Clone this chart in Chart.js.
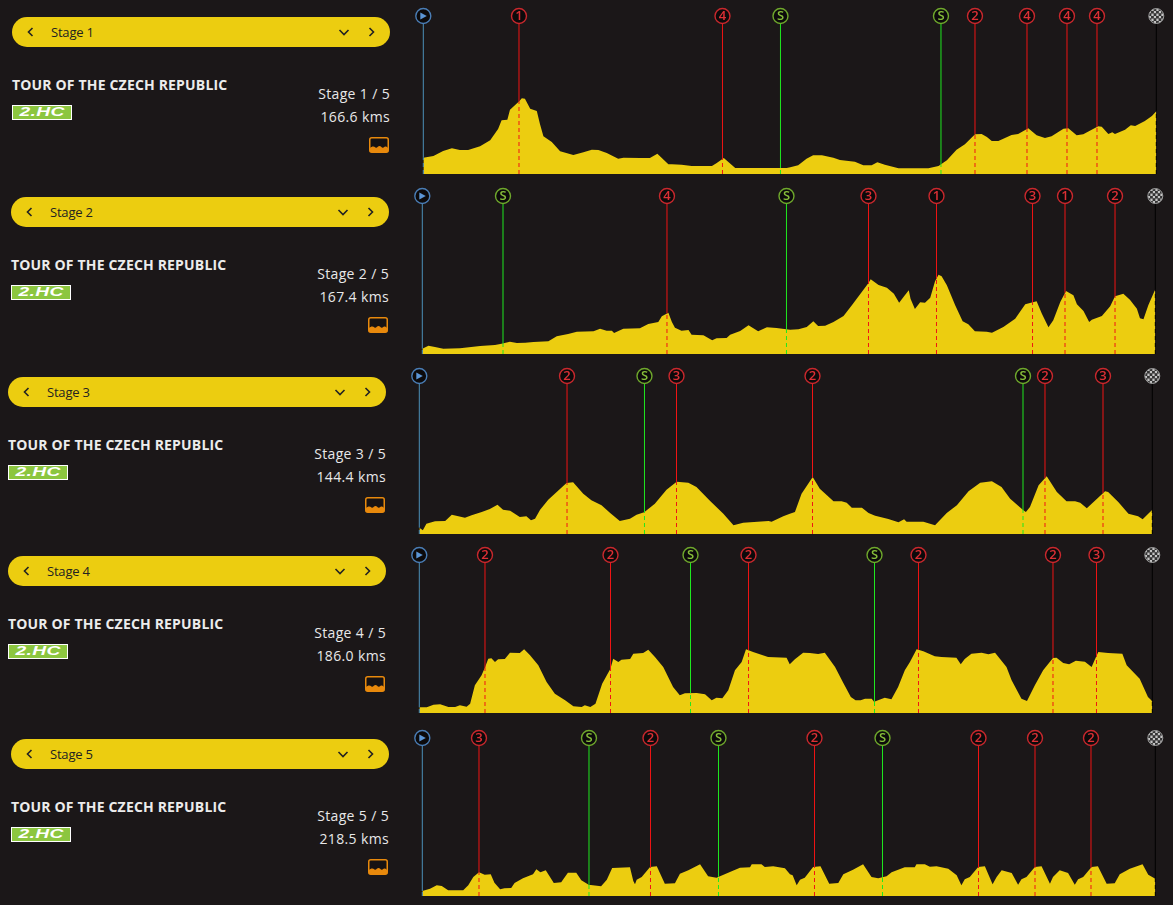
<!DOCTYPE html>
<html>
<head>
<meta charset="utf-8">
<title>Tour of the Czech Republic</title>
<script src="https://cdn.jsdelivr.net/npm/chart.js@4/dist/chart.umd.min.js"></script>
<style>
html,body{margin:0;padding:0;background:#1b1718;width:1173px;height:905px;overflow:hidden;font-family:"Open Sans",sans-serif;}
.abs{position:absolute;white-space:nowrap;}
.pill{height:30px;width:378px;border-radius:15px;background:#eccd10;color:#222;font-size:13px;letter-spacing:-.2px;line-height:30px;}
.pill span{position:absolute;left:39px;top:0;}
.pill svg{position:absolute;top:8px;}
.title{color:#ececec;font-size:14px;font-weight:700;letter-spacing:.17px;line-height:18px;}
.right{color:#e8e8e8;font-size:14px;letter-spacing:.35px;line-height:18px;text-align:right;width:120px;}
.badge{width:58px;height:13px;border:1px solid #fff;background:#8cc63f;color:#fff;overflow:hidden;display:flex;align-items:center;justify-content:center;}
.badge b{display:block;font:italic 700 12px/13px "Liberation Sans",sans-serif;transform:scaleX(1.6);letter-spacing:.2px;}
canvas{position:absolute;left:410px;}
</style>
</head>
<body>
<script>
// Race text
const raceName = "TOUR OF THE CZECH REPUBLIC";
const raceClass = "2.HC";
const stageNames = ["Stage 1","Stage 2","Stage 3","Stage 4","Stage 5"];
const stageCounts = ["Stage 1 / 5","Stage 2 / 5","Stage 3 / 5","Stage 4 / 5","Stage 5 / 5"];
const stageLengths = [166.6,167.4,144.4,186.0,218.5];

// Stage 1 profile: distance (km), relative elevation
const s1Km = [0,2.3,4.5,6.5,8.3,10.2,12.9,15.2,17.0,17.8,19.1,19.7,21.8,22.4,23.1,24.3,25.8,26.5,27.3,29.2,31.1,34.1,36.4,38.3,39.8,41.7,44.3,45.5,49.3,51.5,53.2,55.7,56.5,58.7,61.0,65.6,66.7,68.3,70.9,82.6,83.4,85.2,87.1,88.6,90.6,93.2,94.7,98.1,100.0,101.9,103.2,104.9,108.0,114.8,117.1,119.0,121.2,123.1,125.4,126.9,128.1,129.2,130.7,133.7,135.2,137.5,139.4,141.3,142.8,145.5,146.6,148.5,150.0,153.4,154.2,155.7,156.6,157.2,159.5,160.8,161.8,164.0,165.6,166.6];
const s1Elev = [16.3,18,23,25.7,24,24,27.7,33.7,45,53.7,54.3,64.3,72.7,75.7,75.3,65.3,63,50.3,37.7,32,22.7,19,21.7,24.3,24,21,15.3,16.3,16,16,20.3,9.7,9.7,9.3,8,8,11,16,6,6,6.7,8.7,15.3,18.7,18.7,16.3,14,12.3,8.7,8.7,11.7,9.3,5.7,5.7,8,13.7,24.3,29.7,39.7,40,37,33,33,39,40,45.7,38.7,36,37.7,45.3,45.7,38.7,39.7,47.7,47.3,40,41.7,40,44.3,48.7,48,53,58,62.7];
const s1Marks = ["1","4","S","S","2","4","4","4"];
const s1MarkKm = [21.75,68.0,81.18,117.66,125.39,137.21,146.30,153.12];

// Stage 2
const s2Km = [0,1.4,2.9,4.8,8.6,13.2,16.6,18.1,20.0,21.6,23.5,25.4,28.8,30.7,33.3,35.3,39.1,40.6,42.1,43.3,43.8,45.9,49.7,51.6,53.9,54.7,56.2,57.0,57.7,59.2,60.8,61.5,64.2,66.2,67.2,69.5,70.3,72.6,74.5,76.7,78.7,80.9,84.0,85.9,87.8,89.3,90.4,92.0,93.9,96.2,98.1,101.9,102.4,104.2,106.1,107.7,108.9,110.2,111.1,111.5,112.5,113.7,114.8,116.0,117.1,117.9,118.6,119.8,121.7,123.4,124.7,126.2,128.9,130.1,132.7,135.4,137.7,140.3,141.5,143.0,144.1,145.7,147.0,148.7,149.5,151.0,152.3,152.9,155.2,157.1,158.2,160.1,161.6,163.2,163.9,164.7,165.8,167.4];
const s2Elev = [5.3,8.3,7,5.3,5.7,8,9,10.3,12.3,11,11.3,12,12.7,17.7,20,22.3,22.7,25.3,23.3,23.3,21,25.3,25.7,30,32,37.7,41.3,32,26.3,23.3,24,19.3,18.7,13.7,15.7,16,19.3,23,28.7,22.7,26.7,26,24.3,24.7,27,32.7,28,28.3,32,38,48.7,71,74.7,69,66.3,60.3,51.3,58.7,63.7,55.3,45,51.7,51.3,56.3,72.7,79.3,77.7,68.7,48.7,32.7,29.7,22.7,22.3,21.3,27,35.3,49.7,52.7,40.3,26.7,33.7,52,63,58.7,49.7,43,32,34.3,38,47.7,57.7,60.3,54.3,45.3,35.7,34.7,48.7,64.7];
const s2Marks = ["S","4","S","3","1","3","1","2"];
const s2MarkKm = [18.43,55.88,83.17,101.90,117.43,139.36,146.78,158.20];

// Stage 3
const s3Km = [0,0.7,1.4,3.1,5.1,6.4,9.0,10.3,12.3,13.9,15.4,16.5,17.9,19.8,21.1,22.0,22.8,23.8,25.4,29.0,30.3,32.3,33.9,35.9,37.6,39.5,41.5,42.8,44.3,46.4,48.7,50.7,53.0,54.6,57.3,59.9,61.9,63.8,68.8,69.4,71.7,73.0,74.0,75.3,77.5,78.9,80.3,81.6,83.2,84.2,85.2,87.2,88.5,89.8,92.4,94.4,95.5,96.0,99.3,101.6,103.9,105.9,108.2,110.5,112.8,114.7,116.4,119.0,119.5,120.3,122.0,123.6,125.6,127.5,129.2,130.2,131.5,135.1,135.7,137.7,139.7,141.6,142.5,144.4];
const s3Elev = [6.3,3.7,10.3,12.7,13,19.3,16.3,18.7,22,25,29.3,24.3,23.3,17,17.7,13.7,15.3,24.3,34.3,51,51.7,40.3,33.7,28.7,21,13,15.3,19.3,21.7,30.3,44.3,52.3,51.3,47,33,20.3,8.7,11.3,13,12.3,17.7,20.3,22,40.3,57,45.3,38.7,32.7,32.7,31.3,26.3,26.3,21,18.3,15,11.7,14.7,12.3,12.3,8.7,21,28.7,42.7,51.3,52.7,47,35.3,23.7,22,27,48.7,57.7,42,32.7,32.7,31.3,25.7,42.7,42,32,20.3,17.7,14.7,24.3];
const s3Marks = ["2","S","3","2","S","2","3"];
const s3MarkKm = [29.10,44.36,50.67,77.46,118.93,123.26,134.69];

// Stage 4
const s4Km = [0,1.9,3.6,5.3,7.4,9.1,10.3,12.0,12.9,14.1,15.8,16.7,17.5,18.3,19.2,20.0,21.7,23.0,25.5,26.6,28.1,30.2,32.3,34.4,37.0,39.1,41.2,42.0,43.4,44.7,46.4,48.5,49.2,50.5,51.3,53.5,54.3,56.8,58.1,59.8,61.9,64.4,66.1,67.4,70.4,72.5,74.2,75.4,76.9,78.4,80.1,81.8,82.9,84.7,88.5,93.2,94.0,95.3,97.4,99.1,101.2,102.9,105.5,107.6,109.5,110.7,112.0,113.1,114.8,115.4,118.1,119.8,121.5,123.2,124.5,126.2,127.9,130.8,132.5,136.3,137.4,138.4,140.1,142.7,144.4,146.1,149.0,150.3,152.8,154.2,156.2,158.3,160.8,161.7,163.4,164.9,166.6,168.9,170.6,171.4,172.3,174.8,178.4,179.5,182.8,184.9,186.0];
const s4Elev = [5.7,5.7,8.3,8.7,6,6,7.7,6.3,9.3,27.7,37.7,46,54.3,54.7,51,53.7,54,60.3,60,63.7,57.7,47.7,31,19.3,12.7,6.7,6,7.7,6,9.3,29.3,44.3,54.3,51,53.3,54,59.3,60,63.3,56,46,26,17.7,19.7,20,18.7,12.7,15.3,14.7,22.7,42.7,51,63.7,61,56,55.3,48.7,53.7,60.3,60,59,60.3,46,30,16,12.7,12.7,14.3,14.3,11.3,15.3,13.7,26,42.7,51,63.7,61.7,56.7,56,55.3,48.7,54,59.3,60.3,58.7,60.3,46,32.7,14.3,12,27.7,42.7,55,55.3,50,48.7,52.3,51.3,46,53.3,61,60,59.3,47.7,34.3,16,11.7];
const s4Marks = ["2","2","S","2","S","2","2","3"];
const s4MarkKm = [16.67,48.52,68.82,83.54,115.51,126.67,160.80,171.84];

// Stage 5
const s5Km = [0,2.3,4.3,5.8,7.7,12.2,13.7,15.2,16.9,18.6,20.4,21.5,23.2,24.5,26.5,27.5,30.0,33.0,34.0,35.2,36.8,39.2,41.4,43.4,45.9,47.4,49.6,53.3,55.0,56.6,61.9,62.9,63.4,63.9,65.4,67.9,69.9,72.3,75.3,76.8,79.3,82.8,85.2,87.7,91.7,94.7,97.7,98.2,101.1,102.1,104.6,108.1,109.6,110.4,111.6,112.6,114.0,116.5,118.7,121.3,124.0,125.5,128.4,131.4,133.9,135.9,138.4,139.9,143.8,146.8,147.3,149.8,151.3,153.3,156.8,159.3,160.7,161.7,163.2,165.7,167.7,170.0,171.2,172.7,175.7,177.6,178.6,180.1,182.6,184.6,187.1,188.0,190.0,192.5,194.5,195.5,197.0,199.5,201.4,204.0,206.4,207.9,210.9,214.7,216.4,218.5];
const s5Elev = [5,7.3,10.7,10,5.7,5.7,10.7,19,23.7,21.3,21.7,13.3,6.7,7.7,8,13,17.7,21.7,26.7,23.7,25.7,13,13.7,23.3,23.3,15.7,11.3,9.7,16.3,28,28.7,15,11.7,16.3,19,29,29.7,12.3,12.7,22.3,25.7,31.7,19.7,18.3,24,28.3,28.7,31.7,31.7,29,29.7,27.7,21.7,20.7,10.7,16.3,18.3,29,29.7,12.3,13,21.7,26.3,31.7,19,17.7,19.7,23.7,28.7,28.7,31.7,31.7,29.3,29.7,27.3,20.7,10.7,16.7,19,29,29.7,11.7,19,25.7,23,11.3,16.7,19,29,29.7,12.3,19,25.7,23,11.3,16.7,19,29,29.7,12.3,12.7,21.7,27.3,31.7,21.3,17.3];
const s5Marks = ["3","S","2","S","2","S","2","2","2"];
const s5MarkKm = [16.90,49.69,68.02,88.29,116.91,137.18,165.80,182.64,199.33];

const allKm = [s1Km,s2Km,s3Km,s4Km,s5Km];
const allElev = [s1Elev,s2Elev,s3Elev,s4Elev,s5Elev];
const allMarks = [s1Marks,s2Marks,s3Marks,s4Marks,s5Marks];
const allMarkKm = [s1MarkKm,s2MarkKm,s3MarkKm,s4MarkKm,s5MarkKm];

// Layout of each row (separate from the data)
const panelLeft = [12,11,8,8,11];
const panelTop = [17,197,377,556,739];
const plotStart = [423.3,422.3,419.3,419.3,422.3];
const plotEnd = [1156.3,1155.3,1152.3,1152.3,1155.3];
const plotBase = [174,354,534,713,896];

const CANVAS_LEFT = 410, CANVAS_W = 763, PLOT_H = 160, TOP_PAD = 13, BOTTOM_PAD = 6;
const YELLOW = "#eccd10";

const markerPlugin = {
  id: "stageMarkers",
  afterDatasetsDraw(chart, args, opts) {
    const ctx = chart.ctx, x = chart.scales.x, area = chart.chartArea;
    const pts = chart.getDatasetMeta(0).data;
    const profileY = px => {
      for (let i = 1; i < pts.length; i++) {
        if (px <= pts[i].x) {
          const a = pts[i-1], b = pts[i];
          return a.y + (b.y - a.y) * (px - a.x) / (b.x - a.x || 1);
        }
      }
      return pts[pts.length-1].y;
    };
    const cy = area.top + 2;
    opts.labels.forEach((label, i) => {
      const px = x.getPixelForValue(opts.kms[i]);
      const kind = label === "start" ? "start" : label === "finish" ? "finish" : label === "S" ? "sprint" : "climb";
      const line = {start:"#4b90b8", finish:"#000000", sprint:"#1fe81f", climb:"#f01414"}[kind];
      const py = profileY(px);
      ctx.save();
      ctx.strokeStyle = line; ctx.lineWidth = 1;
      ctx.beginPath(); ctx.moveTo(px, cy + 8); ctx.lineTo(px, py); ctx.stroke();
      ctx.setLineDash([4,3]);
      ctx.beginPath(); ctx.moveTo(px, area.bottom); ctx.lineTo(px, py); ctx.stroke();
      ctx.restore();
      const ix = px;
      ctx.save();
      ctx.beginPath(); ctx.arc(ix, cy, 7.5, 0, Math.PI*2);
      if (kind === "finish") {
        ctx.clip();
        for (let r = -4; r < 4; r++) for (let c = -4; c < 4; c++) {
          ctx.fillStyle = (r + c) & 1 ? "#c4c4c4" : "#333333";
          ctx.fillRect(ix + c*2.5, cy + r*2.5, 2.5, 2.5);
        }
        ctx.restore();
        ctx.save();
        ctx.beginPath(); ctx.arc(ix, cy, 7.5, 0, Math.PI*2);
        ctx.strokeStyle = "#9a9a9a"; ctx.lineWidth = 1; ctx.stroke();
      } else {
        const ring = {start:"#4a7db5", sprint:"#6fa82c", climb:"#c9282d"}[kind];
        const ink = {start:"#5c96d6", sprint:"#86bd3a", climb:"#dc3035"}[kind];
        ctx.fillStyle = "#0c0a0b"; ctx.fill();
        ctx.strokeStyle = ring; ctx.lineWidth = 1.4; ctx.stroke();
        ctx.fillStyle = ink;
        if (kind === "start") {
          ctx.beginPath();
          ctx.moveTo(ix - 3, cy - 3.5); ctx.lineTo(ix + 3.5, cy); ctx.lineTo(ix - 3, cy + 3.5);
          ctx.closePath(); ctx.fill();
        } else {
          ctx.font = '600 13px "Open Sans"';
          ctx.textAlign = "center"; ctx.textBaseline = "middle";
          ctx.fillText(label, ix, cy + 0.5);
        }
      }
      ctx.restore();
    });
  }
};

function chev(pts, left) {
  return `<svg width="14" height="14" style="left:${left}px" viewBox="0 0 14 14"><polyline points="${pts}" fill="none" stroke="#222" stroke-width="1.6"/></svg>`;
}
function add(html) {
  const d = document.createElement("div");
  d.innerHTML = html;
  const el = d.firstElementChild;
  document.body.appendChild(el);
  return el;
}

stageNames.forEach((name, i) => {
  const L = panelLeft[i], T = panelTop[i];
  add(`<div class="abs pill" style="left:${L}px;top:${T}px"><span>${name}</span>`
    + chev("9.5,3 5.5,7 9.5,11", 11) + chev("2.5,5 7,9.5 11.5,5", 325) + chev("4.5,3 8.5,7 4.5,11", 353) + `</div>`);
  add(`<div class="abs title" style="left:${L}px;top:${T+59}px">${raceName}</div>`);
  add(`<div class="abs badge" style="left:${L}px;top:${T+88}px"><b>${raceClass}</b></div>`);
  add(`<div class="abs right" style="left:${L+258}px;top:${T+68}px">${stageCounts[i]}</div>`);
  add(`<div class="abs right" style="left:${L+258}px;top:${T+91}px">${stageLengths[i].toFixed(1)} kms</div>`);
  add(`<svg class="abs" width="20" height="16" style="left:${L+357}px;top:${T+120}px" viewBox="0 0 20 16">
    <rect x=".75" y=".75" width="18.5" height="14.5" rx="2" fill="#161213" stroke="#e8890c" stroke-width="1.5"/>
    <path d="M1 15V11C3 9 5 9 6.5 10.5C8 11.5 9 9 10.5 9C12 9 13 11.5 14.5 10.5C16 9 17.5 9 19 11V15Z" fill="#e8890c"/></svg>`);

  const H = PLOT_H + TOP_PAD + BOTTOM_PAD;
  const cv = document.createElement("canvas");
  cv.width = CANVAS_W; cv.height = H;
  cv.style.cssText = `top:${plotBase[i]-PLOT_H-TOP_PAD}px;width:${CANVAS_W}px;height:${H}px`;
  document.body.appendChild(cv);

  new Chart(cv, {
    type: "line",
    data: {
      datasets: [{
        data: allKm[i].map((k, j) => ({x: k, y: allElev[i][j]})),
        fill: "origin",
        backgroundColor: YELLOW,
        borderColor: YELLOW,
        borderWidth: 0,
        pointRadius: 0,
        tension: 0
      }]
    },
    options: {
      responsive: false,
      animation: false,
      devicePixelRatio: 1,
      events: [],
      layout: {padding: {
        left: plotStart[i] - CANVAS_LEFT,
        right: CANVAS_LEFT + CANVAS_W - plotEnd[i],
        top: TOP_PAD,
        bottom: BOTTOM_PAD
      }},
      scales: {
        x: {type: "linear", min: 0, max: stageLengths[i], display: false},
        y: {min: 0, max: PLOT_H, display: false}
      },
      plugins: {
        legend: {display: false},
        tooltip: {enabled: false},
        stageMarkers: {
          labels: ["start", ...allMarks[i], "finish"],
          kms: [0, ...allMarkKm[i], stageLengths[i]]
        }
      }
    },
    plugins: [markerPlugin]
  });
});
</script>
</body>
</html>
